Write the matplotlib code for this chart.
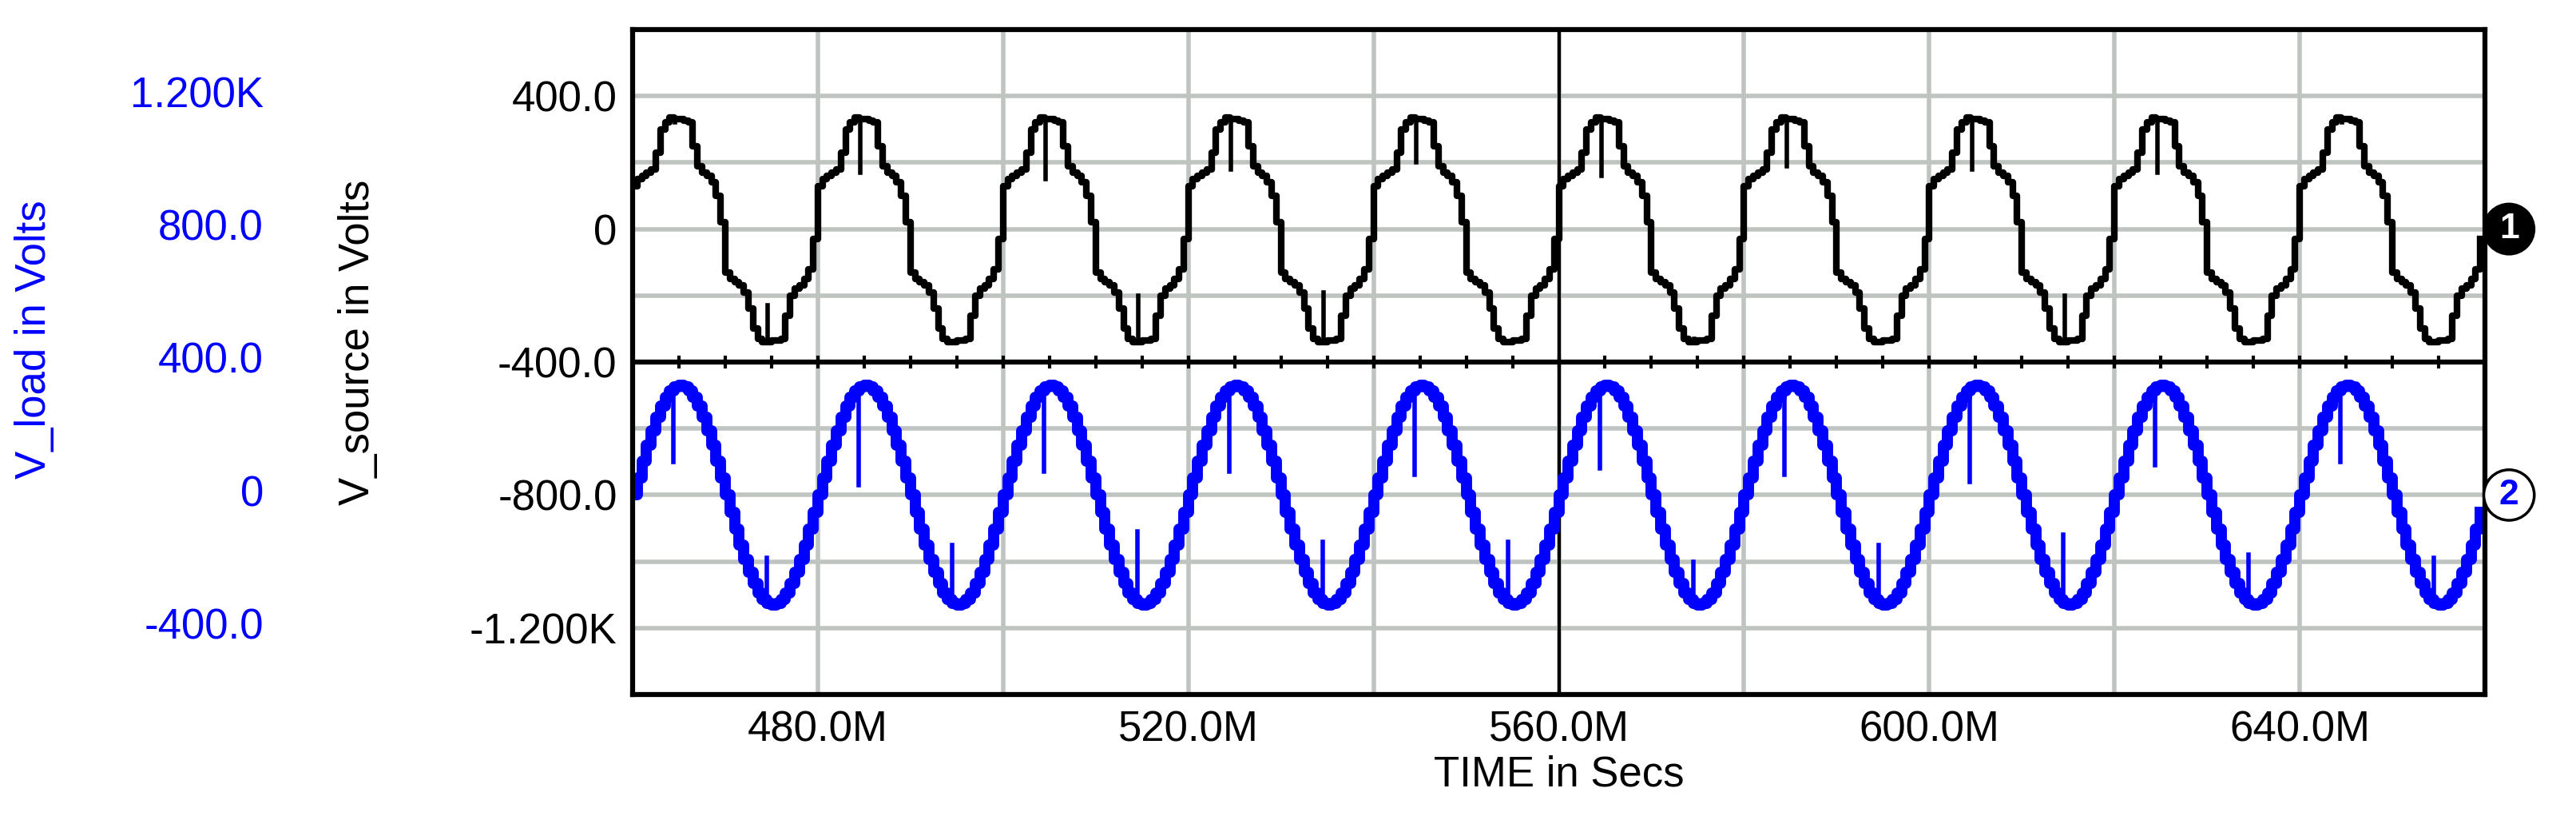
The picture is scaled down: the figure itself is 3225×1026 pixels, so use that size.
import numpy as np
import matplotlib.pyplot as plt
import matplotlib.transforms as mtrans

plt.rcParams['font.family'] = ['Liberation Sans', 'DejaVu Sans']

# time axis (ms) and per-cycle waveform samples
t_start, t_end = 460.0, 660.0
period = 20.0
n_cycles = 10
sample_ms = 0.5
source_cycle = [130, 150, 160, 170, 180, 230, 300, 320, 335, 330,
                330, 325, 320, 250, 190, 170, 160, 140, 100, 20,
                -130, -150, -160, -170, -190, -240, -300, -330, -340, -340,
                -335, -335, -330, -260, -200, -180, -170, -150, -120, -30]
load_cycle = [0, 52, 102, 150, 194, 233, 267, 294, 314, 326,
              330, 326, 314, 294, 267, 233, 194, 150, 102, 52,
              0, -52, -102, -150, -194, -233, -267, -294, -314, -326,
              -330, -326, -314, -294, -267, -233, -194, -150, -102, -52]
# spikes per cycle (value reached by the glitch)
source_peak_spike = [330, 170, 150, 180, 200, 160, 190, 180, 170, 330]
source_trough_spike = [-230, -330, -200, -190, -330, -340, -330, -200, -330, -330]
load_peak_spike = [100, 30, 70, 70, 60, 80, 60, 40, 90, 100]
load_trough_spike = [-190, -150, -110, -140, -140, -200, -150, -120, -180, -190]
load_offset = 800  # load trace drawn on shifted axis

x_grid = [480, 500, 520, 540, 560, 580, 600, 620, 640]
x_labels = [480, 520, 560, 600, 640]
src_ticks = [400, 0, -400, -800, -1200]
src_tick_labels = ['400.0', '0', '-400.0', '-800.0', '-1.200K']
load_tick_labels = ['1.200K', '800.0', '400.0', '0', '-400.0']

fig = plt.figure(figsize=(32.25, 10.26), dpi=100)
ax = fig.add_axes([792 / 3225, 1 - 869 / 1026, (3111 - 792) / 3225, (869 - 37) / 1026])

t = t_start + np.arange(n_cycles * len(source_cycle)) * sample_ms
src = np.tile(source_cycle, n_cycles)
load = np.tile(load_cycle, n_cycles) - load_offset
ax.step(t, src, where='post', color='black', lw=6)
ax.step(t, load, where='post', color='#0000ff', lw=10)
for i in range(n_cycles):
    c0 = t_start + i * period
    ax.plot([c0 + 4.6, c0 + 4.6], [320, source_peak_spike[i]], color='black', lw=4)
    ax.plot([c0 + 14.6, c0 + 14.6], [-330, source_trough_spike[i]], color='black', lw=4)
    ax.plot([c0 + 4.4, c0 + 4.4], [320 - load_offset, load_peak_spike[i] - load_offset],
            color='#0000ff', lw=4)
    ax.plot([c0 + 14.5, c0 + 14.5], [-320 - load_offset, load_trough_spike[i] - load_offset],
            color='#0000ff', lw=4)

ax.set_xlim(t_start, t_end)
ax.set_ylim(-1400, 600)
for x in x_grid:
    ax.axvline(x, color='#c0c4c0', lw=4, zorder=0)
for y in range(-1200, 600, 200):
    ax.axhline(y, color='#c0c4c0', lw=4, zorder=0)
ax.axvline(560, color='black', lw=3, zorder=1)
ax.axhline(-400, color='black', lw=4.5, zorder=3)
for x in np.arange(465, 660, 5):
    ax.plot([x, x], [-385, -415], color='black', lw=3, zorder=3)
for s in ax.spines.values():
    s.set_linewidth(4.5)

ax.set_xticks(x_labels)
ax.set_xticklabels([f'{v:.1f}M' for v in x_labels], fontsize=38)
ax.set_yticks(src_ticks)
ax.set_yticklabels(src_tick_labels, fontsize=38)
ax.tick_params(length=0, pad=14)
ax.set_xlabel('TIME in Secs', fontsize=38, labelpad=4)

btrans = mtrans.blended_transform_factory(fig.transFigure, ax.transData)
for v, lab in zip(src_ticks, load_tick_labels):
    fig.text(330 / 3225, v, lab, transform=btrans, fontsize=38, color='#0000ff',
             ha='right', va='center')
fig.text(43 / 3225, 1 - 425 / 1026, 'V_load in Volts', rotation=90, fontsize=38,
         color='#0000ff', ha='center', va='center')
fig.text(448 / 3225, 1 - 428 / 1026, 'V_source in Volts', rotation=90, fontsize=38,
         color='black', ha='center', va='center')

ax.annotate('1', (1.013, 0), xycoords=('axes fraction', 'data'), ha='center', va='center',
            fontsize=32, fontweight='bold', color='white', annotation_clip=False,
            bbox=dict(boxstyle='circle,pad=0.25', fc='black', ec='black', lw=2))
ax.annotate('2', (1.013, -800), xycoords=('axes fraction', 'data'), ha='center', va='center',
            fontsize=32, fontweight='bold', color='#0000ff', annotation_clip=False,
            bbox=dict(boxstyle='circle,pad=0.25', fc='white', ec='black', lw=2.5))

fig.savefig('out.png', dpi=100)
